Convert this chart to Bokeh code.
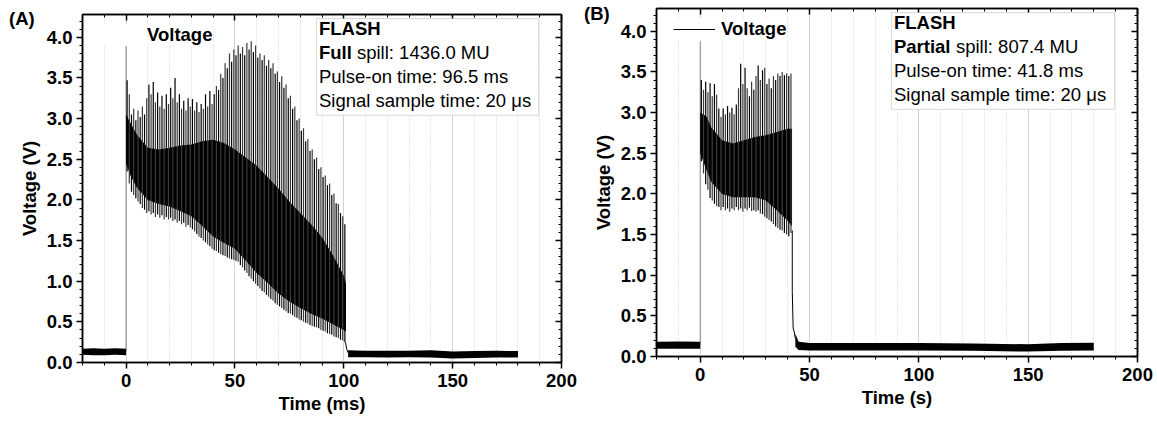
import numpy as np
from bokeh.plotting import figure
from bokeh.layouts import row
from bokeh.models import (Range1d, LinearAxis, FixedTicker, Legend, LegendItem,
                          Label, BoxAnnotation, PrintfTickFormatter, Div)
from bokeh.embed import file_html
from bokeh.resources import INLINE

# ---------------- data ----------------
X_TICKS = [0, 50, 100, 150, 200]
X_MINOR = [-20, -10, 0, 10, 20, 30, 40, 50, 60, 70, 80, 90, 100, 110, 120, 130,
           140, 150, 160, 170, 180, 190, 200]
Y_TICKS = [0.0, 0.5, 1.0, 1.5, 2.0, 2.5, 3.0, 3.5, 4.0]
Y_MINOR = [round(0.1 * i, 1) for i in range(0, 43)]

# Panel A : full spill, one pulse per ms
A_pulse_t = np.arange(0.5, 101.0, 1.0)
A_peak = [3.47, 3.30, 3.05, 3.12, 2.98, 3.10, 3.02, 3.15, 3.05, 3.25,
          3.42, 3.30, 3.45, 3.20, 3.32, 3.15, 3.28, 3.12, 3.30, 3.18,
          3.38, 3.25, 3.50, 3.20, 3.30, 3.12, 3.22, 3.10, 3.25, 3.15,
          3.24, 3.10, 3.20, 3.08, 3.18, 3.12, 3.30, 3.15, 3.34, 3.18,
          3.30, 3.40, 3.35, 3.55, 3.50, 3.68, 3.62, 3.80, 3.70, 3.85,
          3.78, 3.90, 3.80, 3.88, 3.78, 3.93, 3.85, 3.95, 3.82, 3.90,
          3.75, 3.80, 3.72, 3.78, 3.65, 3.72, 3.62, 3.68, 3.55, 3.58,
          3.45, 3.52, 3.38, 3.42, 3.25, 3.28, 3.12, 3.15, 2.98, 3.00,
          2.85, 2.88, 2.72, 2.75, 2.60, 2.62, 2.50, 2.52, 2.38, 2.40,
          2.28, 2.30, 2.18, 2.20, 2.06, 2.08, 1.96, 1.95, 1.84, 1.80,
          1.70]
A_trough = [2.35, 2.20, 2.10, 2.06, 2.02, 1.98, 1.95, 1.90, 1.88, 1.84,
            1.86, 1.82, 1.84, 1.79, 1.82, 1.78, 1.81, 1.76, 1.79, 1.76,
            1.78, 1.74, 1.76, 1.72, 1.74, 1.70, 1.72, 1.67, 1.69, 1.66,
            1.64, 1.61, 1.58, 1.55, 1.53, 1.50, 1.48, 1.45, 1.43, 1.40,
            1.38, 1.37, 1.35, 1.33, 1.32, 1.31, 1.29, 1.28, 1.27, 1.26,
            1.25, 1.24, 1.20, 1.17, 1.13, 1.10, 1.06, 1.03, 1.00, 0.97,
            0.94, 0.91, 0.88, 0.86, 0.83, 0.81, 0.78, 0.76, 0.73, 0.71,
            0.69, 0.67, 0.65, 0.63, 0.61, 0.60, 0.58, 0.56, 0.55, 0.53,
            0.52, 0.50, 0.49, 0.48, 0.46, 0.45, 0.44, 0.43, 0.42, 0.40,
            0.39, 0.38, 0.36, 0.35, 0.34, 0.32, 0.31, 0.30, 0.28, 0.27,
            0.25]
A_band_t = [0, 2, 5, 10, 15, 20, 25, 30, 35, 40, 45, 50, 55, 60, 65, 70, 75,
            80, 85, 90, 95, 100, 101]
A_band_hi = [3.05, 2.95, 2.80, 2.64, 2.62, 2.64, 2.67, 2.68, 2.72, 2.74, 2.70,
             2.62, 2.52, 2.42, 2.28, 2.14, 1.98, 1.84, 1.70, 1.54, 1.32, 1.07, 0.97]
A_band_lo = [2.45, 2.30, 2.15, 2.00, 1.95, 1.92, 1.86, 1.80, 1.68, 1.55, 1.47,
             1.40, 1.25, 1.10, 0.98, 0.85, 0.75, 0.67, 0.60, 0.54, 0.47, 0.40, 0.38]
A_pre_t = [-20, -15, -10, -5, 0]
A_pre_lo = [0.095, 0.09, 0.09, 0.095, 0.09]
A_pre_hi = [0.17, 0.175, 0.17, 0.175, 0.17]
A_post_t = [102.0, 110, 120, 130, 140, 150, 160, 170, 180]
A_post_lo = [0.065, 0.065, 0.06, 0.065, 0.06, 0.05, 0.055, 0.06, 0.06]
A_post_hi = [0.15, 0.145, 0.145, 0.145, 0.15, 0.135, 0.14, 0.145, 0.14]
A_rise = [0.13, 3.90]
A_tail_t = [100.8, 101.4, 102.0]
A_tail_v = [0.25, 0.16, 0.12]

# Panel B : partial spill
B_pulse_t = np.arange(0.5, 42.0, 1.0)
B_peak = [3.40, 3.28, 3.38, 3.25, 3.36, 3.20, 3.35, 3.22, 3.05, 2.95,
          3.05, 2.98, 3.08, 3.00, 3.06, 2.98, 3.10, 3.30, 3.60, 3.35,
          3.55, 3.30, 3.20, 3.38, 3.28, 3.45, 3.58, 3.40, 3.52, 3.55,
          3.35, 3.42, 3.30, 3.45, 3.40, 3.48, 3.45, 3.50, 3.46, 3.48,
          3.45, 3.48]
B_trough = [2.40, 2.25, 2.12, 2.05, 1.95, 1.92, 1.88, 1.85, 1.84, 1.80,
            1.84, 1.80, 1.82, 1.78, 1.82, 1.80, 1.84, 1.80, 1.82, 1.78,
            1.82, 1.80, 1.83, 1.79, 1.80, 1.78, 1.80, 1.76, 1.75, 1.72,
            1.70, 1.68, 1.66, 1.63, 1.60, 1.58, 1.56, 1.55, 1.52, 1.50,
            1.48, 1.52]
B_band_t = [0, 3, 5, 10, 15, 20, 25, 30, 35, 40, 42]
B_band_hi = [3.00, 2.95, 2.82, 2.66, 2.62, 2.66, 2.70, 2.72, 2.76, 2.80, 2.80]
B_band_lo = [2.50, 2.28, 2.15, 2.00, 1.96, 1.96, 1.96, 1.92, 1.80, 1.67, 1.60]
B_pre_t = [-20, -10, 0]
B_pre_lo = [0.095, 0.095, 0.095]
B_pre_hi = [0.18, 0.185, 0.18]
B_post_t = [43.5, 45, 50, 75, 100, 125, 150, 165, 180]
B_post_lo = [0.12, 0.08, 0.075, 0.075, 0.075, 0.07, 0.06, 0.07, 0.075]
B_post_hi = [0.28, 0.18, 0.165, 0.165, 0.165, 0.16, 0.15, 0.165, 0.17]
B_rise = [0.14, 3.87]
B_tail_t = [42.1, 42.1, 42.5, 43.0, 43.5]
B_tail_v = [1.55, 0.80, 0.35, 0.30, 0.22]

# ---------------- styling ----------------
FONT = "Liberation Sans"
FS = "18.5px"
GRID = "#d2d2d2"


def make_panel(width, b_left, b_right, b_top, b_bottom, xlabel,
               pt, peak, trough, bt, bhi, blo, pre_t, pre_lo, pre_hi,
               post_t, post_lo, post_hi, rise, tail_t, tail_v,
               show_sample, bold_word, bold_w, info_rest):
    p = figure(width=width, height=423, x_range=Range1d(-20, 200),
               y_range=Range1d(0, 4.28), output_backend="svg",
               toolbar_location=None, min_border_left=b_left,
               min_border_right=b_right, min_border_top=b_top,
               min_border_bottom=b_bottom, background_fill_color="white",
               border_fill_color="white")
    if "frame_align" in p.properties():
        p.frame_align = False
    p.outline_line_color = "black"
    p.outline_line_width = 1.5

    xt = FixedTicker(ticks=X_TICKS, minor_ticks=X_MINOR)
    yt = FixedTicker(ticks=Y_TICKS, minor_ticks=Y_MINOR)

    xa = p.xaxis[0]
    ya = p.yaxis[0]
    xa.ticker = xt
    ya.ticker = yt
    ya.formatter = PrintfTickFormatter(format="%.1f")
    for ax in (xa, ya):
        ax.axis_line_width = 1.5
        ax.major_tick_line_width = 1.5
        ax.minor_tick_line_width = 1
        ax.major_tick_in = 0
        ax.major_tick_out = 6
        ax.minor_tick_in = 0
        ax.minor_tick_out = 3
        ax.major_label_text_font = FONT
        ax.major_label_text_font_style = "bold"
        ax.major_label_text_font_size = FS
        ax.major_label_text_color = "black"
        ax.axis_label_text_font = FONT
        ax.axis_label_text_font_style = "bold"
        ax.axis_label_text_font_size = FS
        ax.axis_label_text_color = "black"
    ya.major_label_standoff = 4
    ya.axis_label_standoff = 4
    xa.major_label_standoff = 5
    xa.axis_label_standoff = 3
    xa.axis_label = xlabel
    ya.axis_label = "Voltage (V)"

    top_ax = LinearAxis(ticker=xt, formatter=PrintfTickFormatter(format=""))
    right_ax = LinearAxis(ticker=yt, formatter=PrintfTickFormatter(format=""))
    for ax in (top_ax, right_ax):
        ax.axis_line_width = 1.5
        ax.major_tick_line_width = 1.5
        ax.minor_tick_line_width = 1
        ax.major_tick_in = 6
        ax.major_tick_out = 0
        ax.minor_tick_in = 3
        ax.minor_tick_out = 0
        ax.major_label_text_font_size = "1px"
        ax.major_label_standoff = 0
    p.add_layout(top_ax, "above")
    p.add_layout(right_ax, "right")

    p.xgrid[0].ticker = xt
    p.xgrid[0].grid_line_color = GRID
    p.xgrid[0].grid_line_width = 1
    p.xgrid[0].minor_grid_line_color = GRID
    p.xgrid[0].minor_grid_line_dash = "1 2"
    p.ygrid[0].visible = False

    common = dict(text_font=FONT, text_font_size=FS, text_baseline="middle",
                  text_align="left", text_color="black")

    # rise of the signal at trigger
    p.line([0, 0], rise, line_color="#8a8a8a", line_width=1)
    # dense band of the pulsed signal
    p.varea(x=bt, y1=blo, y2=bhi, fill_color="black")
    colors = ["black" if i % 2 == 0 else "#3a3a3a" for i in range(len(pt))]
    p.segment(x0=pt, y0=trough, x1=pt, y1=peak, line_color=colors, line_width=1.2)
    # baselines
    p.varea(x=pre_t, y1=pre_lo, y2=pre_hi, fill_color="black")
    p.varea(x=post_t, y1=post_lo, y2=post_hi, fill_color="black")
    tail = p.line(tail_t, tail_v, line_color="black", line_width=1)

    # legend
    if show_sample:
        item = LegendItem(label="Voltage", renderers=[tail])
    else:
        ghost = p.line(tail_t, tail_v, line_color="black", line_width=1, line_alpha=0)
        item = LegendItem(label="Voltage", renderers=[ghost])
    leg = Legend(items=[item],
                 location=(17, 316), padding=4, margin=0, glyph_width=42,
                 glyph_height=16, label_height=16, label_standoff=6,
                 label_text_font=FONT, label_text_font_style="bold",
                 label_text_font_size=FS, label_text_color="black",
                 border_line_color=None,
                 background_fill_color="white", background_fill_alpha=1)
    p.add_layout(leg)

    # info box
    p.add_layout(BoxAnnotation(left=87.5, right=189.5, bottom=3.04, top=4.23,
                               fill_color="white", fill_alpha=1,
                               line_color="#808080", line_width=1))
    ys = [4.11, 3.81, 3.515, 3.22]
    p.add_layout(Label(x=88.6, y=ys[0], text="FLASH", text_font_style="bold", **common))
    p.add_layout(Label(x=88.6, y=ys[1], text=bold_word, text_font_style="bold", **common))
    p.add_layout(Label(x=88.6, y=ys[1], x_offset=bold_w, text=info_rest[0], **common))
    p.add_layout(Label(x=88.6, y=ys[2], text=info_rest[1], **common))
    p.add_layout(Label(x=88.6, y=ys[3], text=info_rest[2], **common))
    return p


pA = make_panel(578, 82, 17, 14, 61, "Time (ms)",
                A_pulse_t, A_peak, A_trough, A_band_t, A_band_hi, A_band_lo,
                A_pre_t, A_pre_lo, A_pre_hi, A_post_t, A_post_lo, A_post_hi,
                A_rise, A_tail_t, A_tail_v, False, "Full", 38,
                ["spill: 1436.0 MU", "Pulse-on time: 96.5 ms",
                 "Signal sample time: 20 \u03bcs"])
pB = make_panel(579, 78, 20, 8, 67, "Time (s)",
                B_pulse_t, B_peak, B_trough, B_band_t, B_band_hi, B_band_lo,
                B_pre_t, B_pre_lo, B_pre_hi, B_post_t, B_post_lo, B_post_hi,
                B_rise, B_tail_t, B_tail_v, True, "Partial", 62,
                ["spill: 807.4 MU", "Pulse-on time: 41.8 ms",
                 "Signal sample time: 20 \u03bcs"])


def tag_div(text, left, top):
    return Div(text=text, width=40, height=24,
               styles={"position": "absolute", "left": f"{left}px", "top": f"{top}px",
                       "font-family": FONT, "font-size": FS, "font-weight": "bold",
                       "line-height": "24px", "color": "black", "z-index": "10",
                       "margin": "0", "padding": "0"})


layout = row(pA, pB, tag_div("(A)", 9, 7), tag_div("(B)", 584, 2))
open("out.html", "w").write(file_html(layout, INLINE))
